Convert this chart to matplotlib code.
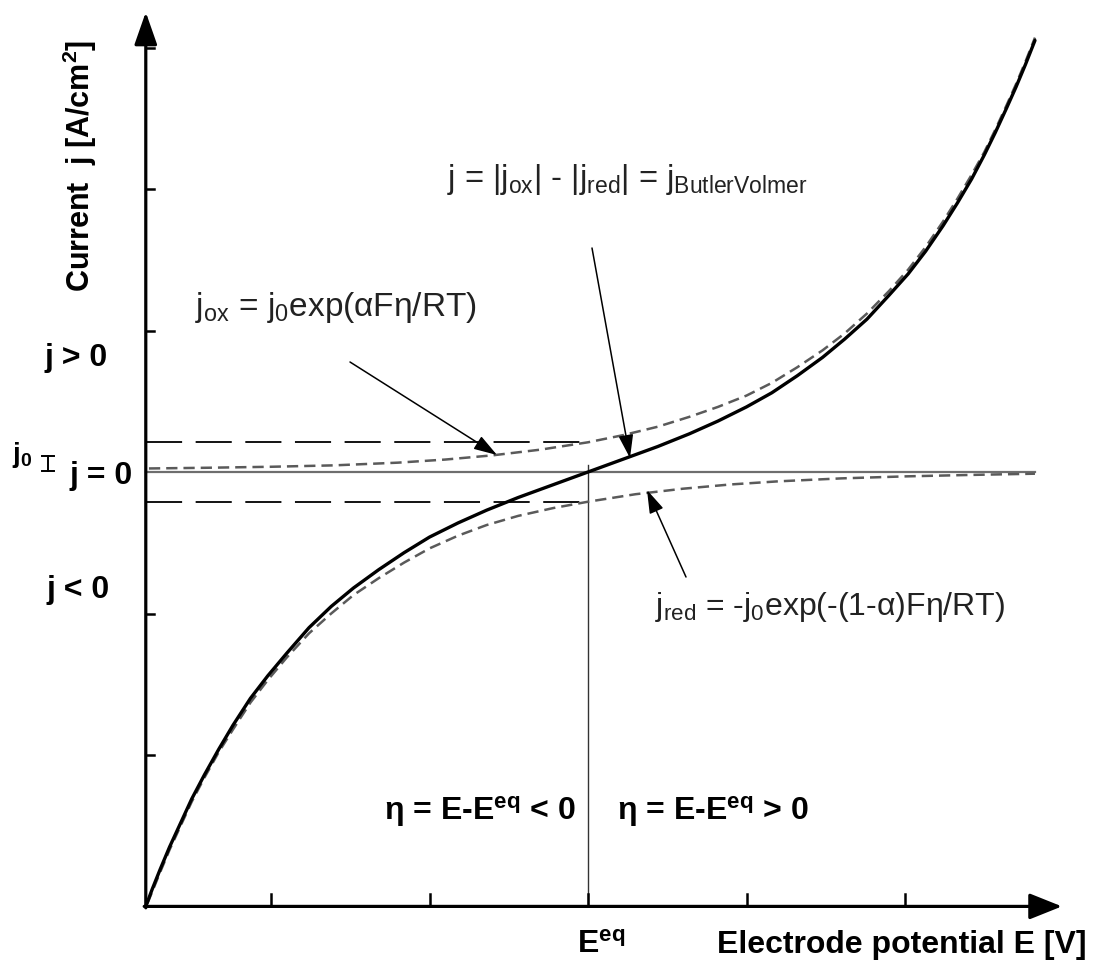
import matplotlib
matplotlib.use('Agg')
import matplotlib.pyplot as plt

# ---------------- data ----------------
# Butler-Volmer net current (solid black)
E_bv = [-2.79, -2.75, -2.70, -2.64, -2.57, -2.50, -2.42, -2.33, -2.24, -2.13, -2.02,
        -1.90, -1.76, -1.62, -1.48, -1.32, -1.16, -1.00, -0.82, -0.64, -0.44, -0.22,
        0.00, 0.22, 0.44, 0.64, 0.82, 1.00, 1.16, 1.32, 1.48, 1.62, 1.76, 1.90,
        2.02, 2.13, 2.24, 2.33, 2.42, 2.50, 2.57, 2.64, 2.70, 2.76, 2.82]
j_bv = [-3.07, -2.95, -2.81, -2.65, -2.48, -2.31, -2.14, -1.96, -1.79, -1.60, -1.44,
        -1.28, -1.10, -0.95, -0.82, -0.69, -0.57, -0.46, -0.36, -0.27, -0.18, -0.09,
        0.00, 0.09, 0.18, 0.27, 0.36, 0.46, 0.56, 0.68, 0.81, 0.94, 1.08, 1.25,
        1.40, 1.56, 1.74, 1.90, 2.07, 2.24, 2.40, 2.57, 2.72, 2.88, 3.05]
# anodic partial current j_ox (grey dashed)
E_ox = [-2.77, -2.40, -2.00, -1.60, -1.20, -0.90, -0.60, -0.30, 0.00, 0.22, 0.44,
        0.64, 0.82, 1.00, 1.16, 1.32, 1.48, 1.62, 1.76, 1.90, 2.02, 2.13, 2.24,
        2.33, 2.42, 2.50, 2.57, 2.64, 2.70, 2.76, 2.82]
j_ox = [0.025, 0.030, 0.037, 0.047, 0.066, 0.088, 0.118, 0.158, 0.21, 0.26, 0.32,
        0.39, 0.46, 0.54, 0.63, 0.74, 0.86, 0.98, 1.12, 1.28, 1.43, 1.59, 1.77,
        1.93, 2.10, 2.26, 2.42, 2.59, 2.74, 2.90, 3.07]
# cathodic partial current j_red (grey dashed)
E_red = [-2.78, -2.74, -2.70, -2.64, -2.57, -2.50, -2.42, -2.33, -2.24, -2.13, -2.02,
         -1.90, -1.76, -1.62, -1.48, -1.32, -1.16, -1.00, -0.82, -0.64, -0.44, -0.22,
         0.00, 0.30, 0.60, 0.90, 1.20, 1.60, 2.00, 2.40, 2.82]
j_red = [-3.05, -2.94, -2.83, -2.67, -2.50, -2.33, -2.16, -1.98, -1.82, -1.63, -1.47,
         -1.31, -1.14, -1.00, -0.87, -0.75, -0.64, -0.54, -0.45, -0.375, -0.31, -0.255,
         -0.21, -0.157, -0.118, -0.088, -0.066, -0.045, -0.031, -0.021, -0.012]
j0_level = 0.21
E_eq = 0.0
x_ticks = [-2, -1, 0, 1, 2]
y_ticks = [-2, -1, 1, 2, 3]
E_origin, j_origin = -2.79, -3.07
E_axis_end, j_axis_end = 2.99, 3.25
E_zero_end = 2.82

# ---------------- figure / pixel mapping ----------------
W, H = 1093, 960
fig = plt.figure(figsize=(W / 100, H / 100), dpi=100)
ax = fig.add_axes([0, 0, 1, 1])
px0, py0, sx, sy = 588.0, 472.0, 158.5, 141.5
ax.set_xlim((0 - px0) / sx, (W - px0) / sx)
ax.set_ylim((py0 - H) / sy, py0 / sy)
ax.axis('off')


def P(px, py):
    return ((px - px0) / sx, (py0 - py) / sy)


plt.rcParams['mathtext.fontset'] = 'custom'
plt.rcParams['mathtext.rm'] = 'Liberation Sans'
plt.rcParams['mathtext.it'] = 'Liberation Sans'
plt.rcParams['mathtext.bf'] = 'Liberation Sans:bold'

REG = ['Liberation Sans', 'DejaVu Sans']
BOLD = ['Liberation Sans', 'DejaVu Sans']

# j = 0 line
ax.plot([E_origin, E_zero_end], [0, 0], color='#6e6e6e', lw=1.6, zorder=2)
# E_eq vertical line
ax.plot([E_eq, E_eq], [j_origin, 0.05], color='#333333', lw=1.0, zorder=2)
# j0 levels (long dashes)
ax.plot([E_origin, E_eq], [j0_level, j0_level], color='black', lw=1.3,
        linestyle=(0, (20, 7.5)), zorder=2)
ax.plot([E_origin, E_eq], [-j0_level, -j0_level], color='black', lw=1.3,
        linestyle=(0, (20, 7.5)), zorder=2)
# partial currents
ax.plot(E_ox, j_ox, color='#5a5a5a', lw=1.8, linestyle=(0, (4.5, 2.4)), zorder=3)
ax.plot(E_red, j_red, color='#5a5a5a', lw=1.8, linestyle=(0, (4.5, 2.4)), zorder=3)
# Butler-Volmer curve
ax.plot(E_bv, j_bv, color='black', lw=2.4, zorder=4, solid_capstyle='round',
        solid_joinstyle='round')

# axes with arrows
ax.annotate('', xy=(E_axis_end, j_origin), xytext=(E_origin - 0.01, j_origin),
            arrowprops=dict(arrowstyle='-|>,head_length=1.0,head_width=0.4',
                            mutation_scale=20, lw=2.3, color='black',
                            shrinkA=0, shrinkB=0), zorder=5)
ax.annotate('', xy=(E_origin, j_axis_end), xytext=(E_origin, j_origin - 0.01),
            arrowprops=dict(arrowstyle='-|>,head_length=1.0,head_width=0.35',
                            mutation_scale=20, lw=2.3, color='black',
                            shrinkA=0, shrinkB=0), zorder=5)
# ticks
for xt in x_ticks:
    ax.plot([xt, xt], [j_origin, j_origin + 12 / sy], color='black', lw=1.8, zorder=5)
for yt in y_ticks:
    ax.plot([E_origin, E_origin + 8 / sx], [yt, yt], color='black', lw=1.8, zorder=5)

# j0 marker (I-beam)
xm = P(48, 0)[0]
ax.plot([xm, xm], [P(0, 471)[1], P(0, 456)[1]], color='black', lw=1.4)
for yy in (471, 456):
    ax.plot([P(42, 0)[0], P(54, 0)[0]], [P(0, yy)[1]] * 2, color='black', lw=1.4)
ax.text(*P(12, 462), 'j$_{\\mathbf{0}}$', fontsize=20, fontweight='bold', family=BOLD,
        ha='left', va='baseline', color='black')

# left labels
ax.text(*P(80, 166), 'Current  j [A/cm$^{\\mathbf{2}}$]', rotation=90, fontsize=22,
        fontweight='bold', family=BOLD, ha='center', va='center')
ax.text(*P(76, 366), 'j > 0', fontsize=23, fontweight='bold', family=BOLD,
        ha='center', va='baseline')
ax.text(*P(101, 484), 'j = 0', fontsize=23, fontweight='bold', family=BOLD,
        ha='center', va='baseline')
ax.text(*P(78, 598), 'j < 0', fontsize=23, fontweight='bold', family=BOLD,
        ha='center', va='baseline')

# formulas
FC = '#222222'
ax.text(*P(195, 316), 'j$_{\\rm ox}$ = j$_{\\rm 0}$exp(αFη/RT)', fontsize=24,
        family=REG, ha='left', va='baseline', color=FC)
ax.text(*P(447, 188), 'j = |j$_{\\rm ox}$| - |j$_{\\rm red}$| = j$_{\\rm ButlerVolmer}$',
        fontsize=23.5, family=REG, ha='left', va='baseline', color=FC)
ax.text(*P(655, 615), 'j$_{\\rm red}$ = -j$_{\\rm 0}$exp(-(1-α)Fη/RT)', fontsize=23,
        family=REG, ha='left', va='baseline', color=FC)

arrow_kw = dict(arrowstyle='-|>,head_length=1.1,head_width=0.35', mutation_scale=13,
                lw=1.1, color='black', shrinkA=0, shrinkB=0)
ax.annotate('', xy=P(497, 455), xytext=P(350, 362), arrowprops=arrow_kw, zorder=6)
ax.annotate('', xy=P(630, 458), xytext=P(592, 248), arrowprops=arrow_kw, zorder=6)
ax.annotate('', xy=P(647, 490), xytext=P(686, 577), arrowprops=arrow_kw, zorder=6)

# eta labels
ax.text(*P(384, 820), 'η = E-E$^{\\mathbf{eq}}$ < 0', fontsize=23, fontweight='bold',
        family=BOLD, ha='left', va='baseline')
ax.text(*P(617, 820), 'η = E-E$^{\\mathbf{eq}}$ > 0', fontsize=23, fontweight='bold',
        family=BOLD, ha='left', va='baseline')

# x labels
ax.text(*P(577, 953), 'E$^{\\mathbf{eq}}$', fontsize=23, fontweight='bold',
        family=BOLD, ha='left', va='baseline')
ax.text(*P(1086, 953), 'Electrode potential E [V]', fontsize=23, fontweight='bold',
        family=BOLD, ha='right', va='baseline')

fig.savefig('out.png', dpi=100, facecolor='white')
